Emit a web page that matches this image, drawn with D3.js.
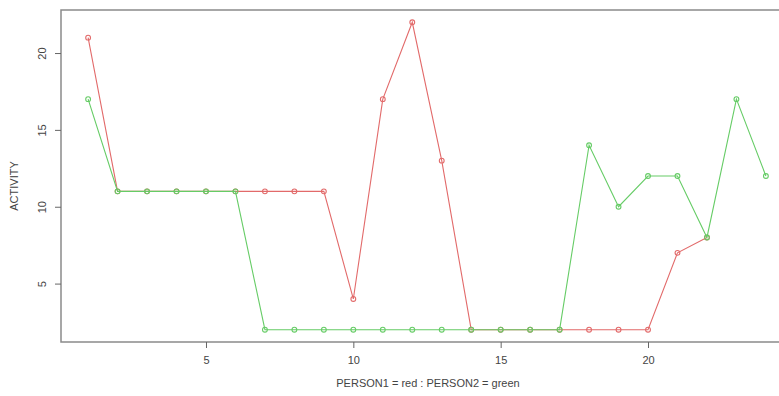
<!DOCTYPE html>
<html>
<head>
<meta charset="utf-8">
<script src="https://cdnjs.cloudflare.com/ajax/libs/d3/7.8.5/d3.min.js"></script>
<style>
  body { margin: 0; background: #fff; }
  text { font-family: "Liberation Sans", Arial, sans-serif; fill: #444; }
</style>
</head>
<body>
<div id="chart"></div>
<script>
// data
var days = d3.range(1, 25);
var person1 = [21, 11, 11, 11, 11, 11, 11, 11, 11, 4, 17, 22, 13, 2, 2, 2, 2, 2, 2, 2, 7, 8];
var person2 = [17, 11, 11, 11, 11, 11, 2, 2, 2, 2, 2, 2, 2, 2, 2, 2, 2, 14, 10, 12, 12, 8, 17, 12];
var xTicks = [5, 10, 15, 20];
var yTicks = [5, 10, 15, 20];

var W = 779, H = 396;
var margin = {top: 10, right: -14, bottom: 54, left: 61},
    width = W - margin.left - margin.right,
    height = H - margin.top - margin.bottom;

var svg = d3.select("#chart")
  .append("svg")
    .attr("width", W)
    .attr("height", H)
  .append("g")
    .attr("transform", "translate(" + margin.left + "," + margin.top + ")");

// R style 4% padding on both scales
var x = d3.scaleLinear().domain([0.08, 24.92]).range([0, width]);
var y = d3.scaleLinear().domain([1.2, 22.8]).range([height, 0]);

// box
svg.append("rect")
  .attr("x", 0).attr("y", 0)
  .attr("width", width).attr("height", height)
  .attr("fill", "none")
  .attr("stroke", "#8a8a8a")
  .attr("stroke-width", 1.5);

// x axis
var gx = svg.append("g")
  .attr("transform", "translate(0," + height + ")")
  .call(d3.axisBottom(x).tickValues(xTicks).tickSize(6).tickPadding(8));
gx.select(".domain").remove();
gx.selectAll("line").attr("stroke", "#666");
gx.selectAll("text").style("font-size", "11px").attr("fill", "#444");

// y axis
var gy = svg.append("g")
  .call(d3.axisLeft(y).tickValues(yTicks).tickSize(6));
gy.select(".domain").remove();
gy.selectAll("line").attr("stroke", "#666");
gy.selectAll("text")
  .style("font-size", "11px")
  .attr("fill", "#444")
  .attr("text-anchor", "middle")
  .attr("x", 0).attr("dy", 0)
  .attr("transform", "translate(-15,0) rotate(-90)");

// axis titles
svg.append("text")
  .attr("transform", "translate(" + (-43) + "," + (height / 2 + 10) + ") rotate(-90)")
  .attr("text-anchor", "middle")
  .style("font-size", "11px")
  .text("ACTIVITY");

svg.append("text")
  .attr("x", 367)
  .attr("y", height + 45)
  .attr("text-anchor", "middle")
  .style("font-size", "11px")
  .text("PERSON1 = red : PERSON2 = green");

var series = [
  {name: "PERSON1", values: person1, color: "#e26a6a"},
  {name: "PERSON2", values: person2, color: "#66cc66"}
];

var line = d3.line()
  .x(function(d, i) { return x(days[i]); })
  .y(function(d) { return y(d); });

series.forEach(function(s) {
  svg.append("path")
    .datum(s.values)
    .attr("fill", "none")
    .attr("stroke", s.color)
    .attr("stroke-width", 1.1)
    .attr("d", line);

  svg.append("g")
    .selectAll("circle")
    .data(s.values)
    .enter()
    .append("circle")
      .attr("cx", function(d, i) { return x(days[i]); })
      .attr("cy", function(d) { return y(d); })
      .attr("r", 2.4)
      .attr("fill", "none")
      .attr("stroke", s.color)
      .attr("stroke-width", 1.1);
});
</script>
</body>
</html>
